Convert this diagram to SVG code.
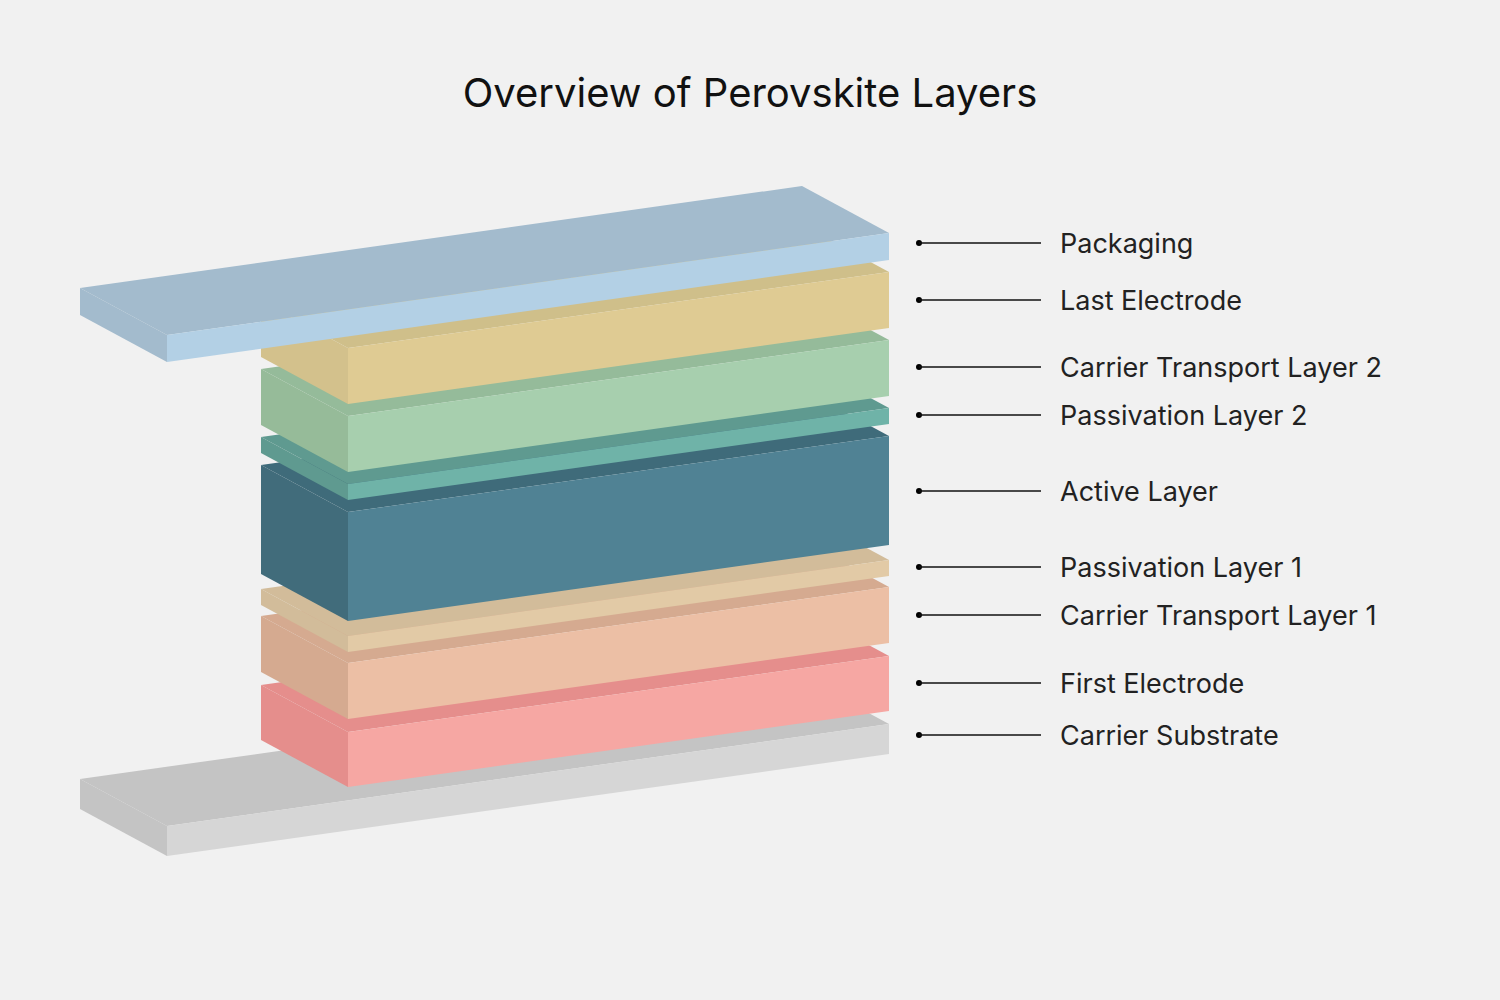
<svg xmlns="http://www.w3.org/2000/svg" width="1500" height="1000" viewBox="0 0 1500 1000">
<style>
.lbl{font-family:Inter,"Liberation Sans",sans-serif;font-size:27px;fill:#222}
.ttl{font-family:Inter,"Liberation Sans",sans-serif;font-size:40px;fill:#111}
.ln{stroke:#111;stroke-width:1.6}
</style>
<rect width="1500" height="1000" fill="#f1f1f1"/>
<text class="ttl" x="750" y="107" text-anchor="middle">Overview of Perovskite Layers</text>
<g id="substrate">
<polygon points="80,779 802,677 889,724 167,826" fill="#c4c4c4"/>
<polygon points="80,779 167,826 167,856 80,809" fill="#c4c4c4"/>
<polygon points="167,826 889,724 889,754 167,856" fill="#d6d6d6"/>
</g>
<g id="first-electrode">
<polygon points="261,685 802,609 889,656 348,732" fill="#e58e8c"/>
<polygon points="261,685 348,732 348,787 261,740" fill="#e58e8c"/>
<polygon points="348,732 889,656 889,711 348,787" fill="#f6a7a3"/>
</g>
<g id="ctl1">
<polygon points="261,616 802,540 889,587 348,663" fill="#d5aa90"/>
<polygon points="261,616 348,663 348,719 261,672" fill="#d5aa90"/>
<polygon points="348,663 889,587 889,643 348,719" fill="#ecbfa5"/>
</g>
<g id="passivation1">
<polygon points="261,589 802,513 889,560 348,636" fill="#d2bc9a"/>
<polygon points="261,589 348,636 348,652 261,605" fill="#d2bc9a"/>
<polygon points="348,636 889,560 889,576 348,652" fill="#e2caa6"/>
</g>
<g id="active">
<polygon points="261,465 802,389 889,436 348,512" fill="#3f6b7a"/>
<polygon points="261,465 348,512 348,621 261,574" fill="#416c7b"/>
<polygon points="348,512 889,436 889,545 348,621" fill="#508294"/>
</g>
<g id="passivation2">
<polygon points="261,437 802,361 889,408 348,484" fill="#5f9a90"/>
<polygon points="261,437 348,484 348,500 261,453" fill="#5f9a90"/>
<polygon points="348,484 889,408 889,424 348,500" fill="#6fb3a8"/>
</g>
<g id="ctl2">
<polygon points="261,369 802,293 889,340 348,416" fill="#95bb9a"/>
<polygon points="261,369 348,416 348,472 261,425" fill="#96bb99"/>
<polygon points="348,416 889,340 889,396 348,472" fill="#a7cfae"/>
</g>
<g id="last-electrode">
<polygon points="261,301 802,225 889,272 348,348" fill="#cfbf8a"/>
<polygon points="261,301 348,348 348,404 261,357" fill="#d3c18c"/>
<polygon points="348,348 889,272 889,328 348,404" fill="#dfcb93"/>
</g>
<g id="packaging">
<polygon points="80,288 802,186 889,233 167,335" fill="#a3bbcd"/>
<polygon points="80,288 167,335 167,362 80,315" fill="#a3bbcd"/>
<polygon points="167,335 889,233 889,260 167,362" fill="#b3d0e5"/>
</g>
<g id="connectors">
<circle cx="919" cy="243" r="3"/><line class="ln" x1="919" y1="243" x2="1041" y2="243"/>
<circle cx="919" cy="300" r="3"/><line class="ln" x1="919" y1="300" x2="1041" y2="300"/>
<circle cx="919" cy="367" r="3"/><line class="ln" x1="919" y1="367" x2="1041" y2="367"/>
<circle cx="919" cy="415" r="3"/><line class="ln" x1="919" y1="415" x2="1041" y2="415"/>
<circle cx="919" cy="491" r="3"/><line class="ln" x1="919" y1="491" x2="1041" y2="491"/>
<circle cx="919" cy="567" r="3"/><line class="ln" x1="919" y1="567" x2="1041" y2="567"/>
<circle cx="919" cy="615" r="3"/><line class="ln" x1="919" y1="615" x2="1041" y2="615"/>
<circle cx="919" cy="683" r="3"/><line class="ln" x1="919" y1="683" x2="1041" y2="683"/>
<circle cx="919" cy="735" r="3"/><line class="ln" x1="919" y1="735" x2="1041" y2="735"/>
</g>
<g id="labels">
<text class="lbl" x="1060" y="253">Packaging</text>
<text class="lbl" x="1060" y="310">Last Electrode</text>
<text class="lbl" x="1060" y="377">Carrier Transport Layer 2</text>
<text class="lbl" x="1060" y="425">Passivation Layer 2</text>
<text class="lbl" x="1060" y="501">Active Layer</text>
<text class="lbl" x="1060" y="577">Passivation Layer 1</text>
<text class="lbl" x="1060" y="625">Carrier Transport Layer 1</text>
<text class="lbl" x="1060" y="693">First Electrode</text>
<text class="lbl" x="1060" y="745">Carrier Substrate</text>
</g>
</svg>
